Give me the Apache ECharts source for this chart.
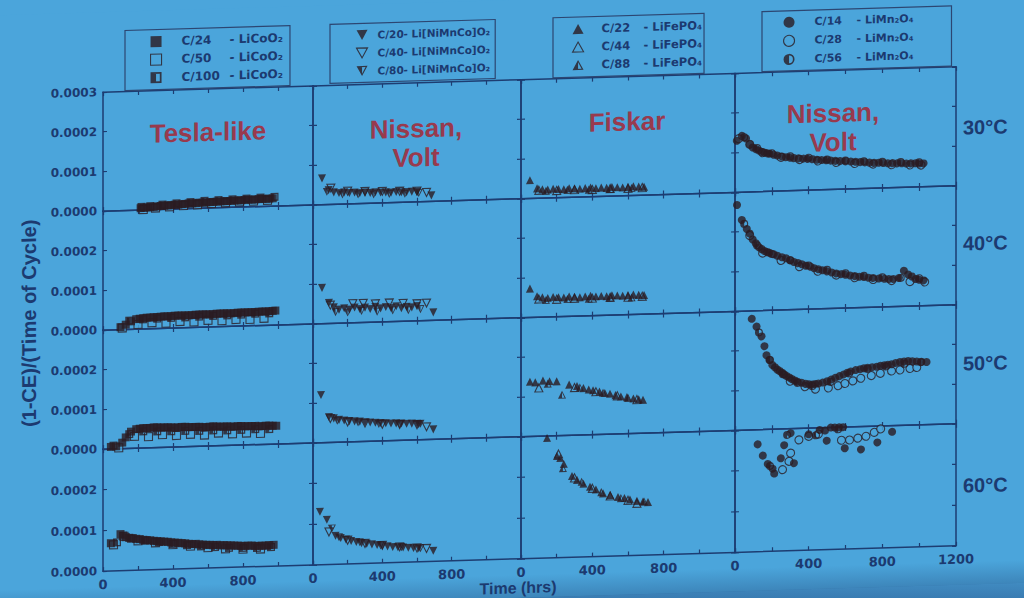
<!DOCTYPE html>
<html><head><meta charset="utf-8">
<script src="https://cdn.jsdelivr.net/npm/echarts@6.0.0/dist/echarts.min.js"></script>
<style>
html,body{margin:0;padding:0;overflow:hidden;background:linear-gradient(#4ba5db 0%,#4ba5db 93%,#3a7cb2 100%);}
#c{width:1024px;height:598px;transform:skewY(-1.7deg);transform-origin:512px 299px;}
</style></head><body><div id="c"></div>
<script>
// ---------- tick labels / texts ----------
const xTickLabels = [0, 400, 800, 1200];
const yTickLabels = ['0.0000', '0.0001', '0.0002', '0.0003'];
const panelTitles = ['Tesla-like', 'Nissan,\nVolt', 'Fiskar', 'Nissan,\nVolt'];
const temps = ['30°C', '40°C', '50°C', '60°C'];
const legendCoO2 = ['C/24 - LiCoO₂', 'C/50 - LiCoO₂', 'C/100 - LiCoO₂'];
const legendNMC = ['C/20 - Li[NiMnCo]O₂', 'C/40 - Li[NiMnCo]O₂', 'C/80 - Li[NiMnCo]O₂'];
const legendFePO4 = ['C/22 - LiFePO₄', 'C/44 - LiFePO₄', 'C/88 - LiFePO₄'];
const legendMn2O4 = ['C/14 - LiMn₂O₄', 'C/28 - LiMn₂O₄', 'C/56 - LiMn₂O₄'];

// ---------- data: [time (hrs), (1-CE)/(time of cycle)] ----------
// Tesla-like, LiCoO2
const tesla30_C24 = [[215,5e-6],[235,5e-6],[250,6e-6],[270,6e-6],[290,7e-6],[310,8e-6],[330,9e-6],[350,9e-6],[370,1.0e-5],[390,1.0e-5],[410,1.1e-5],[430,1.1e-5],[450,1.2e-5],[470,1.2e-5],[490,1.3e-5],[510,1.3e-5],[530,1.35e-5],[550,1.4e-5],[570,1.4e-5],[590,1.45e-5],[610,1.5e-5],[630,1.5e-5],[650,1.55e-5],[670,1.6e-5],[690,1.6e-5],[710,1.6e-5],[730,1.65e-5],[750,1.7e-5],[770,1.7e-5],[790,1.7e-5],[810,1.75e-5],[830,1.8e-5],[850,1.8e-5],[870,1.8e-5],[890,1.85e-5],[910,1.9e-5],[930,1.9e-5],[950,1.9e-5],[970,1.95e-5]];
const tesla30_C50 = [[230,1e-6],[300,4e-6],[380,6e-6],[460,8e-6],[540,9e-6],[620,1.1e-5],[700,1.2e-5],[780,1.3e-5],[860,1.4e-5],[940,1.5e-5]];
const tesla30_C100 = [[220,8e-6],[270,9e-6],[340,1.2e-5],[420,1.4e-5],[500,1.6e-5],[580,1.8e-5],[660,1.9e-5],[740,2.0e-5],[820,2.1e-5],[900,2.2e-5],[980,2.3e-5]];
const tesla40_C24 = [[100,6e-6],[130,1.2e-5],[160,2.0e-5],[190,2.5e-5],[210,2.6e-5],[230,2.7e-5],[250,2.8e-5],[270,2.8e-5],[290,2.9e-5],[310,2.9e-5],[330,3.0e-5],[350,3.0e-5],[370,3.0e-5],[390,3.0e-5],[410,3.1e-5],[430,3.1e-5],[450,3.1e-5],[470,3.1e-5],[490,3.1e-5],[510,3.1e-5],[530,3.2e-5],[550,3.2e-5],[570,3.2e-5],[590,3.2e-5],[610,3.2e-5],[630,3.2e-5],[650,3.3e-5],[670,3.3e-5],[690,3.3e-5],[710,3.3e-5],[730,3.3e-5],[750,3.3e-5],[770,3.4e-5],[790,3.4e-5],[810,3.4e-5],[830,3.4e-5],[850,3.4e-5],[870,3.4e-5],[890,3.5e-5],[910,3.5e-5],[930,3.5e-5],[950,3.5e-5],[970,3.6e-5],[985,3.6e-5]];
const tesla40_C50 = [[110,4e-6],[200,1.2e-5],[280,1.5e-5],[360,1.3e-5],[440,1.6e-5],[520,1.4e-5],[600,1.7e-5],[680,1.5e-5],[760,1.7e-5],[840,1.6e-5],[920,1.8e-5]];
const tesla40_C100 = [[150,2.2e-5],[230,2.4e-5],[310,2.5e-5],[390,2.6e-5],[470,2.6e-5],[550,2.7e-5],[630,2.8e-5],[710,2.8e-5],[790,2.9e-5],[870,3.0e-5],[950,3.0e-5]];
const tesla50_C24 = [[45,5e-6],[75,6e-6],[110,1.5e-5],[130,2.8e-5],[160,4.2e-5],[190,4.8e-5],[210,4.9e-5],[230,5.0e-5],[250,5.0e-5],[270,5.0e-5],[290,5.1e-5],[310,5.1e-5],[330,5.0e-5],[350,5.0e-5],[370,5.0e-5],[390,5.0e-5],[410,4.9e-5],[430,4.9e-5],[450,5.0e-5],[470,5.0e-5],[490,4.9e-5],[510,4.9e-5],[530,4.9e-5],[550,4.9e-5],[570,4.8e-5],[590,4.8e-5],[610,4.9e-5],[630,4.9e-5],[650,4.8e-5],[670,4.8e-5],[690,4.8e-5],[710,4.8e-5],[730,4.7e-5],[750,4.7e-5],[770,4.8e-5],[790,4.8e-5],[810,4.7e-5],[830,4.7e-5],[850,4.7e-5],[870,4.7e-5],[890,4.6e-5],[910,4.6e-5],[930,4.7e-5],[950,4.7e-5],[970,4.6e-5],[990,4.6e-5]];
const tesla50_C50 = [[90,2e-6],[180,3.0e-5],[260,2.8e-5],[340,3.2e-5],[420,2.9e-5],[500,3.1e-5],[580,2.8e-5],[660,3.2e-5],[740,2.9e-5],[820,3.0e-5],[900,2.8e-5]];
const tesla50_C100 = [[60,8e-6],[150,3.6e-5],[230,4.2e-5],[310,4.1e-5],[390,4.0e-5],[470,4.0e-5],[550,3.9e-5],[630,3.9e-5],[710,3.8e-5],[790,3.8e-5],[870,3.9e-5],[950,3.8e-5]];
const tesla60_C24 = [[45,6.8e-5],[100,9.0e-5],[115,8.6e-5],[130,8.2e-5],[150,8.0e-5],[170,7.9e-5],[190,7.7e-5],[210,7.6e-5],[230,7.4e-5],[250,7.3e-5],[270,7.2e-5],[290,7.1e-5],[310,7.0e-5],[330,6.9e-5],[350,6.8e-5],[370,6.7e-5],[390,6.6e-5],[410,6.5e-5],[430,6.4e-5],[450,6.3e-5],[470,6.2e-5],[490,6.1e-5],[510,6.0e-5],[530,6.0e-5],[550,5.9e-5],[570,5.8e-5],[590,5.7e-5],[610,5.7e-5],[630,5.6e-5],[650,5.6e-5],[670,5.5e-5],[690,5.5e-5],[710,5.4e-5],[730,5.4e-5],[750,5.3e-5],[770,5.3e-5],[790,5.2e-5],[810,5.2e-5],[830,5.2e-5],[850,5.2e-5],[870,5.1e-5],[890,5.1e-5],[910,5.1e-5],[930,5.1e-5],[950,5.2e-5],[975,5.2e-5]];
const tesla60_C50 = [[60,6.4e-5],[120,8.4e-5],[200,7.2e-5],[300,6.6e-5],[400,6.0e-5],[500,5.5e-5],[600,5.0e-5],[700,4.6e-5],[800,4.4e-5],[900,4.3e-5]];
const tesla60_C100 = [[80,7.0e-5],[160,7.8e-5],[240,7.2e-5],[320,6.7e-5],[400,6.2e-5],[480,5.8e-5],[560,5.4e-5],[640,5.1e-5],[720,4.8e-5],[800,4.7e-5],[880,4.6e-5],[960,4.7e-5]];
// Nissan, Volt, Li[NiMnCo]O2
const nmc30_C20 = [[52,6.6e-5],[90,3.6e-5],[120,3.0e-5],[150,2.8e-5],[180,2.9e-5],[210,2.7e-5],[240,2.8e-5],[270,2.6e-5],[300,2.7e-5],[330,2.6e-5],[360,2.7e-5],[390,2.6e-5],[420,2.6e-5],[450,2.5e-5],[480,2.6e-5],[510,2.5e-5],[540,2.5e-5],[570,2.6e-5],[600,2.5e-5],[683,1.5e-5]];
const nmc30_C40 = [[103,4.1e-5],[200,3.2e-5],[300,3.0e-5],[400,2.9e-5],[500,2.8e-5],[600,2.7e-5],[655,2.3e-5]];
const nmc30_C80 = [[80,3.2e-5],[170,2.4e-5],[260,2.3e-5],[350,2.2e-5],[440,2.2e-5],[530,2.1e-5],[610,2.2e-5]];
const nmc40_C20 = [[52,9.0e-5],[92,5.2e-5],[120,4.0e-5],[150,3.4e-5],[180,3.7e-5],[210,3.3e-5],[240,3.8e-5],[270,3.4e-5],[300,3.7e-5],[330,3.3e-5],[360,3.8e-5],[390,3.4e-5],[420,3.7e-5],[450,3.4e-5],[480,3.8e-5],[510,3.3e-5],[540,3.6e-5],[570,3.4e-5],[600,3.7e-5],[694,2.0e-5]];
const nmc40_C40 = [[100,4.6e-5],[230,4.8e-5],[290,4.8e-5],[360,4.6e-5],[440,4.7e-5],[520,4.5e-5],[600,4.3e-5],[655,4.4e-5]];
const nmc40_C80 = [[130,2.8e-5],[200,2.6e-5],[280,2.9e-5],[370,2.6e-5],[460,2.8e-5],[550,2.7e-5],[620,2.9e-5]];
const nmc50_C20 = [[46,1.2e-4],[92,6.4e-5],[120,6.0e-5],[150,5.6e-5],[180,5.4e-5],[210,5.2e-5],[240,5.1e-5],[270,5.0e-5],[300,4.8e-5],[330,4.7e-5],[360,4.6e-5],[390,4.5e-5],[420,4.4e-5],[450,4.3e-5],[480,4.3e-5],[510,4.2e-5],[540,4.1e-5],[570,4.1e-5],[600,4.0e-5],[620,4.0e-5],[694,2.5e-5]];
const nmc50_C40 = [[100,6.0e-5],[200,5.0e-5],[300,4.6e-5],[400,4.2e-5],[500,4.0e-5],[600,3.8e-5],[655,3.2e-5]];
const nmc50_C80 = [[140,5.4e-5],[260,4.8e-5],[380,4.3e-5],[500,4.0e-5],[610,3.9e-5]];
const nmc60_C20 = [[40,1.3e-4],[80,1.1e-4],[130,7.0e-5],[160,6.4e-5],[190,6.0e-5],[220,5.6e-5],[250,5.3e-5],[280,5.0e-5],[310,4.8e-5],[340,4.6e-5],[370,4.4e-5],[400,4.2e-5],[430,4.0e-5],[460,3.8e-5],[490,3.7e-5],[520,3.6e-5],[550,3.5e-5],[580,3.4e-5],[610,3.3e-5],[694,2.6e-5]];
const nmc60_C40 = [[92,8.0e-5],[200,5.8e-5],[300,4.9e-5],[400,4.3e-5],[500,3.8e-5],[600,3.4e-5],[655,3.2e-5]];
const nmc60_C80 = [[109,8.8e-5],[150,6.6e-5],[270,5.2e-5],[390,4.3e-5],[510,3.7e-5],[620,3.3e-5]];
// Fiskar, LiFePO4
const lfp30_C22 = [[50,4.6e-5],[90,2.5e-5],[120,2.2e-5],[150,2.1e-5],[180,2.3e-5],[210,2.2e-5],[240,2.1e-5],[270,2.3e-5],[300,2.2e-5],[330,2.1e-5],[360,2.2e-5],[390,2.3e-5],[420,2.1e-5],[450,2.2e-5],[480,2.1e-5],[510,2.3e-5],[540,2.2e-5],[570,2.1e-5],[600,2.2e-5],[630,2.3e-5],[660,2.2e-5],[690,2.1e-5]];
const lfp30_C44 = [[100,2.0e-5],[200,1.8e-5],[300,1.9e-5],[400,1.8e-5],[500,1.9e-5],[600,1.8e-5],[680,1.9e-5]];
const lfp30_C88 = [[140,1.8e-5],[260,1.9e-5],[380,1.8e-5],[500,1.8e-5],[620,1.9e-5]];
const lfp40_C22 = [[50,7.3e-5],[90,5.3e-5],[120,5.0e-5],[150,4.8e-5],[180,5.0e-5],[210,4.9e-5],[240,4.8e-5],[270,5.0e-5],[300,4.9e-5],[330,4.7e-5],[360,4.9e-5],[390,5.0e-5],[420,4.8e-5],[450,4.9e-5],[480,4.8e-5],[510,5.0e-5],[540,4.9e-5],[570,4.8e-5],[600,4.9e-5],[630,5.0e-5],[660,4.9e-5],[690,4.8e-5]];
const lfp40_C44 = [[100,4.6e-5],[200,4.4e-5],[300,4.5e-5],[400,4.4e-5],[500,4.5e-5],[600,4.4e-5],[680,4.5e-5]];
const lfp40_C88 = [[140,4.3e-5],[260,4.4e-5],[380,4.3e-5],[500,4.4e-5],[620,4.3e-5]];
const lfp50_C22 = [[50,1.38e-4],[80,1.36e-4],[123,1.40e-4],[160,1.38e-4],[200,1.37e-4],[270,1.28e-4],[314,1.24e-4],[350,1.18e-4],[380,1.14e-4],[404,1.12e-4],[440,1.08e-4],[470,1.04e-4],[499,1.02e-4],[530,9.8e-5],[560,9.4e-5],[594,9.2e-5],[630,8.8e-5],[660,8.6e-5],[684,8.4e-5]];
const lfp50_C44 = [[100,1.22e-4],[300,1.2e-4],[420,1.08e-4],[540,9.6e-5],[650,8.5e-5]];
const lfp50_C88 = [[150,1.32e-4],[230,1.03e-4],[330,1.2e-4],[460,1.05e-4],[600,9.0e-5]];
const lfp60_C22 = [[146,2.95e-4],[202,2.5e-4],[220,2.45e-4],[240,2.3e-4],[286,2.0e-4],[314,1.9e-4],[350,1.8e-4],[387,1.72e-4],[420,1.65e-4],[460,1.55e-4],[500,1.5e-4],[544,1.45e-4],[580,1.42e-4],[611,1.38e-4],[650,1.34e-4],[684,1.32e-4],[712,1.3e-4]];
const lfp60_C44 = [[210,2.55e-4],[300,1.95e-4],[400,1.68e-4],[500,1.48e-4],[600,1.36e-4],[650,1.28e-4]];
const lfp60_C88 = [[235,2.2e-4],[340,1.85e-4],[450,1.58e-4],[560,1.42e-4],[690,1.32e-4]];
// Nissan, Volt, LiMn2O4
const lmo30_C14 = [[10,1.3e-4],[37,1.42e-4],[60,1.35e-4],[80,1.2e-4],[96,1.12e-4],[115,1.07e-4],[130,1.04e-4],[145,1.0e-4],[160,9.8e-5],[175,9.6e-5],[187,9.5e-5],[210,9.2e-5],[230,9.0e-5],[255,8.7e-5],[277,8.5e-5],[300,8.3e-5],[320,8.2e-5],[345,8.1e-5],[370,8.0e-5],[395,7.9e-5],[420,7.8e-5],[445,7.6e-5],[470,7.5e-5],[495,7.4e-5],[520,7.3e-5],[545,7.2e-5],[570,7.1e-5],[600,7.0e-5],[629,6.9e-5],[655,6.8e-5],[680,6.7e-5],[705,6.6e-5],[730,6.5e-5],[755,6.4e-5],[780,6.4e-5],[805,6.3e-5],[830,6.2e-5],[855,6.2e-5],[880,6.1e-5],[905,6.1e-5],[930,6.0e-5],[955,6.0e-5],[980,6.0e-5],[1000,5.9e-5],[1024,5.9e-5]];
const lmo30_C28 = [[20,1.35e-4],[80,1.2e-4],[150,9.8e-5],[250,8.5e-5],[350,7.8e-5],[450,7.3e-5],[550,6.8e-5],[650,6.4e-5],[750,6.1e-5],[850,5.8e-5],[950,5.6e-5],[1010,5.5e-5]];
const lmo30_C56 = [[50,1.38e-4],[120,1.1e-4],[200,9.6e-5],[300,8.7e-5],[400,8.2e-5],[500,7.6e-5],[600,7.2e-5],[700,6.9e-5],[800,6.6e-5],[900,6.4e-5],[1000,6.2e-5]];
const lmo40_C14 = [[11,2.68e-4],[37,2.3e-4],[64,2.07e-4],[80,1.95e-4],[96,1.8e-4],[113,1.7e-4],[130,1.6e-4],[145,1.55e-4],[160,1.5e-4],[175,1.47e-4],[187,1.45e-4],[210,1.41e-4],[230,1.37e-4],[255,1.33e-4],[277,1.3e-4],[300,1.25e-4],[320,1.2e-4],[342,1.17e-4],[363,1.14e-4],[385,1.1e-4],[410,1.07e-4],[430,1.03e-4],[453,1.0e-4],[475,9.7e-5],[500,9.4e-5],[525,9.1e-5],[550,8.8e-5],[575,8.6e-5],[600,8.4e-5],[625,8.2e-5],[650,8.0e-5],[675,7.8e-5],[700,7.7e-5],[725,7.5e-5],[750,7.4e-5],[780,7.2e-5],[811,7.1e-5],[835,7.0e-5],[860,7.0e-5],[890,7.2e-5],[917,9.0e-5],[940,8.0e-5],[960,7.5e-5],[980,6.8e-5],[1000,6.6e-5],[1024,6.4e-5]];
const lmo40_C28 = [[80,1.9e-4],[150,1.45e-4],[250,1.25e-4],[350,1.08e-4],[450,9.5e-5],[550,8.4e-5],[650,7.6e-5],[750,7.0e-5],[850,6.6e-5],[950,6.2e-5],[1030,6.0e-5]];
const lmo40_C56 = [[50,2.2e-4],[120,1.65e-4],[200,1.42e-4],[300,1.25e-4],[400,1.1e-4],[500,9.8e-5],[600,8.8e-5],[700,8.0e-5],[800,7.5e-5],[900,7.2e-5],[1000,7.0e-5]];
const lmo50_C14 = [[91,2.8e-4],[117,2.6e-4],[144,2.35e-4],[160,2.1e-4],[171,1.87e-4],[187,1.75e-4],[203,1.62e-4],[217,1.56e-4],[230,1.5e-4],[243,1.46e-4],[256,1.42e-4],[268,1.37e-4],[280,1.33e-4],[295,1.29e-4],[309,1.25e-4],[325,1.21e-4],[340,1.18e-4],[362,1.15e-4],[384,1.12e-4],[402,1.11e-4],[420,1.1e-4],[436,1.11e-4],[453,1.12e-4],[476,1.14e-4],[500,1.17e-4],[522,1.21e-4],[544,1.25e-4],[567,1.29e-4],[590,1.33e-4],[610,1.37e-4],[629,1.4e-4],[655,1.43e-4],[680,1.45e-4],[700,1.47e-4],[720,1.48e-4],[745,1.49e-4],[770,1.5e-4],[790,1.52e-4],[811,1.53e-4],[830,1.54e-4],[850,1.55e-4],[873,1.58e-4],[896,1.6e-4],[918,1.61e-4],[940,1.62e-4],[963,1.61e-4],[987,1.6e-4],[1012,1.59e-4],[1040,1.58e-4]];
const lmo50_C28 = [[300,1.2e-4],[380,1.05e-4],[437,9.8e-5],[507,1.0e-4],[560,1.05e-4],[597,1.1e-4],[640,1.16e-4],[683,1.22e-4],[740,1.28e-4],[789,1.33e-4],[850,1.38e-4],[896,1.4e-4],[950,1.43e-4],[987,1.45e-4]];
const lmo50_C56 = [[130,2.45e-4],[190,1.75e-4],[260,1.38e-4],[340,1.15e-4],[420,1.06e-4],[520,1.15e-4],[620,1.35e-4],[720,1.45e-4],[820,1.5e-4],[920,1.55e-4],[1010,1.58e-4]];
const lmo60_C14 = [[123,2.64e-4],[151,2.36e-4],[178,2.15e-4],[204,2.03e-4],[213,1.91e-4],[249,2.28e-4],[267,2.6e-4],[302,2.89e-4],[320,2.15e-4],[400,2.85e-4],[460,2.95e-4],[489,2.93e-4],[498,2.68e-4],[520,3.0e-4],[542,3.0e-4],[565,3.0e-4],[587,3.0e-4],[596,2.48e-4],[684,2.44e-4],[773,2.6e-4],[853,2.85e-4]];
const lmo60_C28 = [[258,2.0e-4],[293,2.2e-4],[302,2.4e-4],[347,2.72e-4],[400,2.8e-4],[453,2.85e-4],[578,2.68e-4],[622,2.68e-4],[667,2.72e-4],[711,2.76e-4],[756,2.85e-4],[791,2.93e-4]];
const lmo60_C56 = [[190,2.1e-4],[283,2.85e-4],[440,2.82e-4],[560,2.95e-4]];

// panels[row][col] = [filled, open, half]
const panels = [
  [[tesla30_C24,tesla30_C50,tesla30_C100],[nmc30_C20,nmc30_C40,nmc30_C80],[lfp30_C22,lfp30_C44,lfp30_C88],[lmo30_C14,lmo30_C28,lmo30_C56]],
  [[tesla40_C24,tesla40_C50,tesla40_C100],[nmc40_C20,nmc40_C40,nmc40_C80],[lfp40_C22,lfp40_C44,lfp40_C88],[lmo40_C14,lmo40_C28,lmo40_C56]],
  [[tesla50_C24,tesla50_C50,tesla50_C100],[nmc50_C20,nmc50_C40,nmc50_C80],[lfp50_C22,lfp50_C44,lfp50_C88],[lmo50_C14,lmo50_C28,lmo50_C56]],
  [[tesla60_C24,tesla60_C50,tesla60_C100],[nmc60_C20,nmc60_C40,nmc60_C80],[lfp60_C22,lfp60_C44,lfp60_C88],[lmo60_C14,lmo60_C28,lmo60_C56]]
];
const legendNames = [legendCoO2, legendNMC, legendFePO4, legendMn2O4];

// ---------- styles ----------
const BG = '#4ba5db', INK = '#2a1c22', AX = '#1d3d72', TXT = '#1c3a70', TITLE = '#983a4e';
const SYM = {
  sq: 'path://M0,0L10,0L10,10L0,10Z',
  sqHalf: 'path://M0,0L10,0L10,10L0,10ZM1.6,1.6L1.6,8.4L8.4,8.4L8.4,1.6ZM1.6,1.6L5,1.6L5,8.4L1.6,8.4Z',
  dn: 'path://M0,0L10,0L5,9Z',
  dnHalf: 'path://M0,0L10,0L5,9ZM1.8,1L5,7L8.2,1ZM1.8,1L5,1L5,7Z',
  up: 'path://M5,0L10,9L0,9Z',
  upHalf: 'path://M5,0L10,9L0,9ZM5,2L1.8,8L8.2,8ZM5,2L5,8L1.8,8Z',
  ciHalf: 'path://M5,0A5,5 0 1,1 5,10A5,5 0 1,1 5,0ZM5,1.5A3.5,3.5 0 1,0 5,8.5A3.5,3.5 0 1,0 5,1.5ZM5,1.5L5,8.5A3.5,3.5 0 0,1 5,1.5Z'
};
const colSym = [
  [SYM.sq, SYM.sq, SYM.sqHalf],
  [SYM.dn, SYM.dn, SYM.dnHalf],
  [SYM.up, SYM.up, SYM.upHalf],
  ['circle', 'circle', SYM.ciHalf]
];
const kStyle = [
  {color: INK, borderWidth: 0},
  {color: BG, borderColor: INK, borderWidth: 1.1},
  {color: INK, borderWidth: 0}
];
const colSymSize = [8, 8, 8, 8];

const colLeft = [103, 313, 521, 735], colWidth = [210, 208, 214, 221];
const rowTop = [80, 199, 318, 437], rowHeight = [119, 119, 119, 122];

const grids = [], xAxes = [], yAxes = [], series = [];
const axisLineStyle = {show: true, onZero: false, lineStyle: {color: AX, width: 1.5}};
const tickStyle = {show: true, inside: true, length: 4, lineStyle: {color: AX, width: 1.2}};
for (let r = 0; r < 4; r++) {
  for (let c = 0; c < 4; c++) {
    const gi = r * 4 + c;
    grids.push({left: colLeft[c], top: rowTop[r], width: colWidth[c], height: rowHeight[r], show: false});
    const xBase = {gridIndex: gi, type: 'value', min: 0, max: 1200, interval: 200,
      axisLine: axisLineStyle, axisTick: tickStyle, splitLine: {show: false}};
    xAxes.push(Object.assign({}, xBase, {position: 'bottom',
      axisLabel: {show: r === 3, margin: 7, color: TXT, fontWeight: 'bold', fontSize: 13, fontFamily: 'DejaVu Sans',
        formatter: v => (xTickLabels.includes(v) && !(c < 3 && v === 1200)) ? String(v) : ''}}));
    xAxes.push(Object.assign({}, xBase, {position: 'top', axisLabel: {show: false}}));
    const yBase = {gridIndex: gi, type: 'value', min: 0, max: 0.0003, interval: 0.0001,
      axisLine: axisLineStyle, axisTick: tickStyle, splitLine: {show: false}};
    yAxes.push(Object.assign({}, yBase, {position: 'left',
      axisLabel: {show: c === 0, margin: 6, color: TXT, fontWeight: 'bold', fontSize: 12, fontFamily: 'DejaVu Sans',
        formatter: v => { const i = Math.round(v / 0.0001); return (r > 0 && i === 3) ? '' : yTickLabels[i]; }}}));
    yAxes.push(Object.assign({}, yBase, {position: 'right', axisLabel: {show: false}}));
    [1, 2, 0].forEach(k => {
      series.push({type: 'scatter', name: legendNames[c][k], xAxisIndex: 2 * gi, yAxisIndex: 2 * gi,
        data: panels[r][c][k], symbol: colSym[c][k], symbolSize: colSymSize[c], itemStyle: kStyle[k],
        emphasis: {disabled: true}, z: k === 0 ? 5 : 3});
    });
  }
}

const legendLayout = [
  {left: 125, padL: 25, padR: 7, aPad: 15, aW: 48, bW: 62, fs: 12},
  {left: 330, padL: 26, padR: 5, aPad: 5, aW: 26, bW: 103, fs: 10.5},
  {left: 553, padL: 19, padR: 2, aPad: 13, aW: 42, bW: 58, fs: 11.5},
  {left: 762, padL: 21, padR: 38, aPad: 15, aW: 42, bW: 57, fs: 11}
];
const legends = legendLayout.map((L, c) => {
  const tok = {fontSize: L.fs, fontWeight: 'bold', fontFamily: 'DejaVu Sans', color: TXT};
  return {
    orient: 'vertical', left: L.left, top: 19, padding: [6, L.padR, 6, L.padL], itemGap: 18 - Math.round(L.fs),
    itemWidth: 11, itemHeight: 11, borderColor: '#2c4672', borderWidth: 1.2, selectedMode: false,
    data: legendNames[c].map((n, k) => ({name: n, icon: colSym[c][k], itemStyle: kStyle[k]})),
    formatter: name => { const p = name.split(' - '); return '{a|' + p[0] + '}{b|- ' + p[1] + '}'; },
    textStyle: {rich: {a: Object.assign({width: L.aW, padding: [0, 0, 0, L.aPad]}, tok), b: Object.assign({width: L.bW}, tok)}}
  };
});

const titleFont = 'bold 26px "Liberation Sans", Arial, sans-serif';
const titlePos = [[208, 123], [416, 140], [627, 125], [833, 137]];
const tempY = [141, 257, 377, 499];
const graphic = [
  {type: 'rect', silent: true, z: -10, shape: {x: 0, y: 575, width: 1024, height: 40},
   style: {fill: new echarts.graphic.LinearGradient(0, 0, 0, 1, [{offset: 0, color: 'rgba(35,75,125,0)'}, {offset: 1, color: 'rgba(35,75,125,0.6)'}])}}
];
panelTitles.forEach((t, c) => graphic.push({type: 'text', x: titlePos[c][0], y: titlePos[c][1], silent: true,
  style: {text: t, font: titleFont, fill: TITLE, align: 'center', verticalAlign: 'middle', lineHeight: 29}}));
temps.forEach((t, r) => graphic.push({type: 'text', x: 963, y: tempY[r], silent: true,
  style: {text: t, font: 'bold 20px "Liberation Sans", Arial, sans-serif', fill: TXT, align: 'left', verticalAlign: 'middle'}}));
graphic.push({type: 'text', x: 29, y: 309, rotation: Math.PI / 2, silent: true,
  style: {text: '(1-CE)/(Time of Cycle)', font: 'bold 20px "Liberation Sans", Arial, sans-serif', fill: TXT, align: 'center', verticalAlign: 'middle'}});
graphic.push({type: 'text', x: 518, y: 580, silent: true,
  style: {text: 'Time (hrs)', font: 'bold 16px "Liberation Sans", Arial, sans-serif', fill: TXT, align: 'center', verticalAlign: 'top'}});

const chart = echarts.init(document.getElementById('c'), null, {renderer: 'svg'});
chart.setOption({
  backgroundColor: BG,
  animation: false,
  grid: grids, xAxis: xAxes, yAxis: yAxes, series: series,
  legend: legends,
  graphic: graphic
});
</script></body></html>
